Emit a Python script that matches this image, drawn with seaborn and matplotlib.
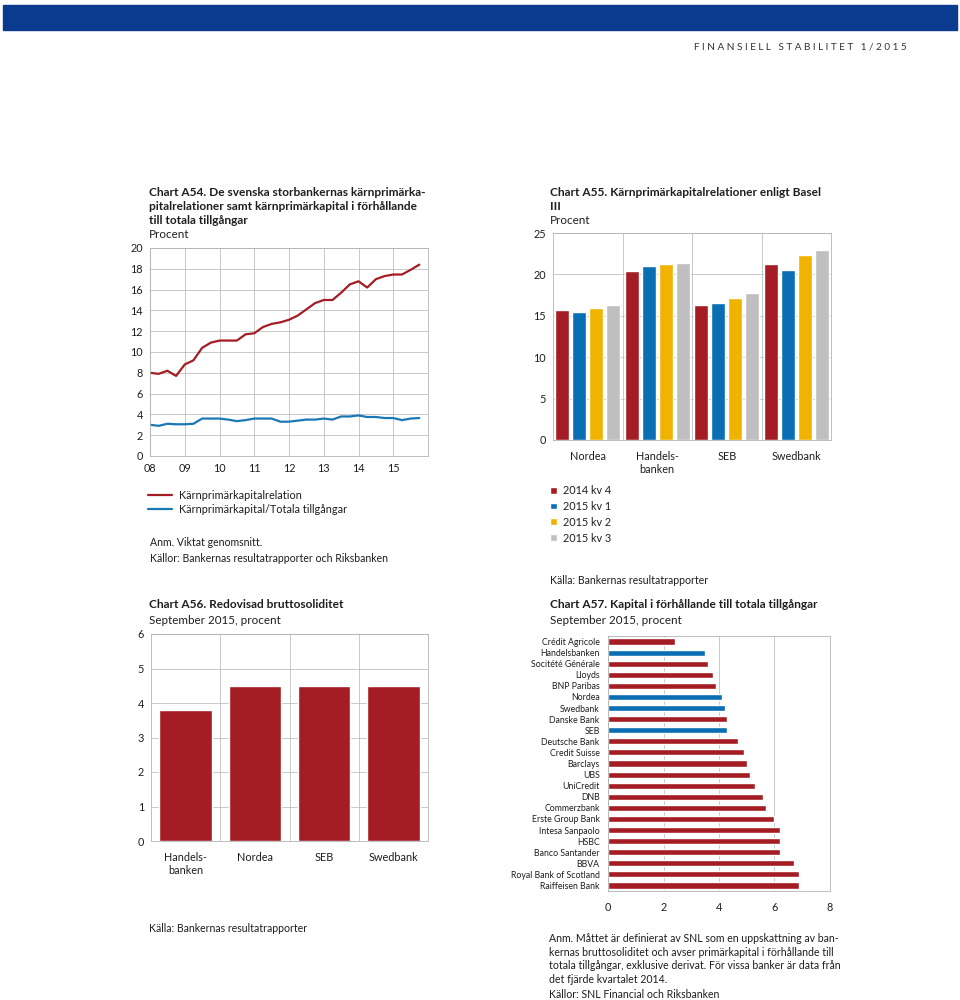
import numpy as np
import pandas as pd
import matplotlib
matplotlib.use('Agg')
import matplotlib.pyplot as plt
from matplotlib.patches import Rectangle
from matplotlib.lines import Line2D
import seaborn as sns

###############################################################################
# data

# Chart A54, quarterly from 2008 kv 1
a54_red = [8.0, 7.9, 8.2, 7.7, 8.8, 9.2, 10.4, 10.9, 11.1, 11.1, 11.1, 11.7,
           11.8, 12.4, 12.7, 12.85, 13.1, 13.5, 14.1, 14.7, 15.0, 15.0, 15.7, 16.5,
           16.8, 16.2, 17.0, 17.3, 17.45, 17.45, 17.9, 18.4]
a54_blue = [3.0, 2.9, 3.1, 3.05, 3.05, 3.1, 3.6, 3.6, 3.6, 3.5, 3.35, 3.45,
            3.6, 3.6, 3.6, 3.3, 3.3, 3.4, 3.5, 3.5, 3.6, 3.5, 3.8, 3.8,
            3.9, 3.75, 3.75, 3.65, 3.65, 3.45, 3.6, 3.65]
a54_names = ['Kärnprimärkapitalrelation', 'Kärnprimärkapital/Totala tillgångar']
a54_years = list(range(2008, 2016))
a54_ticklabels = ['08', '09', '10', '11', '12', '13', '14', '15']

# Chart A55
a55_banks = ['Nordea', 'Handels-\nbanken', 'SEB', 'Swedbank']
a55_quarters = ['2014 kv 4', '2015 kv 1', '2015 kv 2', '2015 kv 3']
a55_q4_14 = [15.65, 20.4, 16.25, 21.2]
a55_q1_15 = [15.5, 21.05, 16.5, 20.5]
a55_q2_15 = [16.0, 21.25, 17.2, 22.4]
a55_q3_15 = [16.25, 21.35, 17.75, 22.95]

# Chart A56
a56_banks = ['Handels-\nbanken', 'Nordea', 'SEB', 'Swedbank']
a56_values = [3.8, 4.5, 4.5, 4.5]

# Chart A57
a57_banks = ['Crédit Agricole', 'Handelsbanken', 'Socitété Générale', 'Lloyds',
             'BNP Paribas', 'Nordea', 'Swedbank', 'Danske Bank', 'SEB',
             'Deutsche Bank', 'Credit Suisse', 'Barclays', 'UBS', 'UniCredit',
             'DNB', 'Commerzbank', 'Erste Group Bank', 'Intesa Sanpaolo', 'HSBC',
             'Banco Santander', 'BBVA', 'Royal Bank of Scotland', 'Raiffeisen Bank']
a57_values = [2.4, 3.5, 3.6, 3.8, 3.9, 4.1, 4.2, 4.3, 4.3, 4.7, 4.9, 5.0, 5.1,
              5.3, 5.6, 5.7, 6.0, 6.2, 6.2, 6.2, 6.7, 6.9, 6.9]
a57_swedish = ['Handelsbanken', 'Nordea', 'Swedbank', 'SEB']

###############################################################################
# style

RED = '#a51d24'
BLUE = '#0a6eb4'
LBLUE = '#1a78b5'
YELLOW = '#f0b400'
GREY = '#bfbfbf'
GRID = '#b4b4b4'
TXT = '#1e1e1e'

sns.set_theme(style='white')
plt.rcParams['font.family'] = ['Lato', 'DejaVu Sans']
plt.rcParams['text.color'] = TXT
plt.rcParams['xtick.color'] = TXT
plt.rcParams['ytick.color'] = TXT

W, H = 960, 1000
fig = plt.figure(figsize=(9.6, 10), dpi=100)


def px_axes(l, t, r, b):
    return fig.add_axes([l / W, 1 - b / H, (r - l) / W, (b - t) / H])


def txt(x, y, s, **kw):
    kw.setdefault('va', 'center')
    kw.setdefault('fontsize', 7.6)
    fig.text(x / W, 1 - y / H, s, **kw)


def frame(ax, fs=7.8):
    for sp in ax.spines.values():
        sp.set_visible(True)
        sp.set_color(GRID)
        sp.set_linewidth(0.6)
    ax.tick_params(length=0, labelsize=fs, pad=5)
    ax.set_xlabel('')
    ax.set_ylabel('')


# header
fig.patches.append(Rectangle((3 / W, 1 - 30 / H), 954 / W, 25 / H,
                             transform=fig.transFigure, color='#0b3b8f', zorder=0))
txt(907, 47, 'F I N A N S I E L L   S T A B I L I T E T   1 / 2 0 1 5', ha='right',
    fontsize=7.2, color='#333333')

###############################################################################
# Chart A54
txt(149, 192, 'Chart A54. De svenska storbankernas kärnprimärka-', fontweight='bold', fontsize=8.6)
txt(149, 206, 'pitalrelationer samt kärnprimärkapital i förhållande', fontweight='bold', fontsize=8.6)
txt(149, 220, 'till totala tillgångar', fontweight='bold', fontsize=8.6)
txt(149, 234, 'Procent', fontsize=8.4)

n = len(a54_red)
df54 = pd.DataFrame({
    'x': np.tile(2008 + np.arange(n) / 4, 2),
    'value': a54_red + a54_blue,
    'serie': [a54_names[0]] * n + [a54_names[1]] * n,
})
ax = px_axes(150, 248, 428, 456)
sns.lineplot(data=df54, x='x', y='value', hue='serie', palette=[RED, LBLUE],
             linewidth=1.6, legend=False, ax=ax)
ax.set_xlim(2008, 2016)
ax.set_ylim(0, 20)
ax.set_xticks(a54_years)
ax.set_xticklabels(a54_ticklabels)
ax.set_yticks(range(0, 21, 2))
ax.grid(True, color=GRID, linewidth=0.5)
frame(ax)

handles = [Line2D([], [], color=RED, lw=1.6), Line2D([], [], color=LBLUE, lw=1.6)]
fig.legend(handles, a54_names, loc='upper left', bbox_to_anchor=(148 / W, 1 - 490 / H),
           frameon=False, fontsize=7.8, handlelength=2.2, handletextpad=0.7,
           labelspacing=0.3, borderpad=0, borderaxespad=0)
txt(150, 542, 'Anm. Viktat genomsnitt.')
txt(150, 559, 'Källor: Bankernas resultatrapporter och Riksbanken')

###############################################################################
# Chart A55
txt(550, 192, 'Chart A55. Kärnprimärkapitalrelationer enligt Basel', fontweight='bold', fontsize=8.6)
txt(550, 206, 'III', fontweight='bold', fontsize=8.6)
txt(550, 220, 'Procent', fontsize=8.4)

df55 = pd.DataFrame({
    'bank': a55_banks * 4,
    'kvartal': np.repeat(a55_quarters, 4),
    'value': a55_q4_14 + a55_q1_15 + a55_q2_15 + a55_q3_15,
})
ax = px_axes(553, 233, 831, 440)
sns.barplot(data=df55, x='bank', y='value', hue='kvartal', hue_order=a55_quarters,
            palette=[RED, BLUE, YELLOW, GREY], width=0.98, gap=0.18,
            saturation=1, ax=ax)
ax.set_xlim(-0.5, 3.5)
ax.set_ylim(0, 25)
ax.set_yticks(range(0, 26, 5))
ax.set_xticks([0.5, 1.5, 2.5], minor=True)
ax.grid(True, axis='y', color=GRID, linewidth=0.5)
ax.grid(True, axis='x', which='minor', color=GRID, linewidth=0.5)
ax.set_axisbelow(True)
frame(ax)
ax.tick_params(axis='x', pad=8)
sns.move_legend(ax, 'upper left', bbox_to_anchor=(550 / W, 1 - 485 / H),
                bbox_transform=fig.transFigure, frameon=False, title=None,
                fontsize=7.8, handlelength=0.6, handleheight=0.6, handletextpad=0.6,
                labelspacing=0.45, borderpad=0, borderaxespad=0)
txt(550, 581, 'Källa: Bankernas resultatrapporter')

###############################################################################
# Chart A56
txt(149, 605, 'Chart A56. Redovisad bruttosoliditet', fontweight='bold', fontsize=8.6)
txt(149, 620, 'September 2015, procent', fontsize=8.4)

df56 = pd.DataFrame({'bank': a56_banks, 'value': a56_values})
ax = px_axes(151, 634, 428, 841)
sns.barplot(data=df56, x='bank', y='value', color=RED, width=0.76, saturation=1, ax=ax)
ax.set_xlim(-0.5, 3.5)
ax.set_ylim(0, 6)
ax.set_yticks(range(0, 7))
ax.set_xticks([0.5, 1.5, 2.5], minor=True)
ax.grid(True, axis='y', color=GRID, linewidth=0.5)
ax.grid(True, axis='x', which='minor', color=GRID, linewidth=0.5)
ax.set_axisbelow(True)
frame(ax)
ax.tick_params(axis='x', pad=8)
txt(149, 928, 'Källa: Bankernas resultatrapporter')

###############################################################################
# Chart A57
txt(550, 605, 'Chart A57. Kapital i förhållande till totala tillgångar', fontweight='bold', fontsize=8.6)
txt(550, 620, 'September 2015, procent', fontsize=8.4)

df57 = pd.DataFrame({
    'bank': a57_banks,
    'value': a57_values,
    'grupp': ['Svensk' if b in a57_swedish else 'Övrig' for b in a57_banks],
})
ax = px_axes(608, 636, 830, 891)
sns.barplot(data=df57, x='value', y='bank', hue='grupp', dodge=False,
            palette={'Svensk': BLUE, 'Övrig': RED}, width=0.55, saturation=1,
            legend=False, orient='h', ax=ax)
ax.set_xlim(0, 8)
ax.set_ylim(len(a57_banks) - 0.5, -0.5)
ax.set_xticks(range(0, 9, 2))
ax.grid(True, axis='x', color=GRID, linewidth=0.5)
ax.set_axisbelow(True)
frame(ax)
ax.tick_params(axis='y', labelsize=6.3, pad=6)
ax.tick_params(axis='x', labelsize=7.8, pad=8)

anm = ('Anm. Måttet är definierat av SNL som en uppskattning av ban-\n'
       'kernas bruttosoliditet och avser primärkapital i förhållande till\n'
       'totala tillgångar, exklusive derivat. För vissa banker är data från\n'
       'det fjärde kvartalet 2014.')
fig.text(549 / W, 1 - 933 / H, anm, va='top', fontsize=7.6, linespacing=1.3)
txt(549, 994, 'Källor: SNL Financial och Riksbanken')

fig.savefig('out.png', dpi=100)
